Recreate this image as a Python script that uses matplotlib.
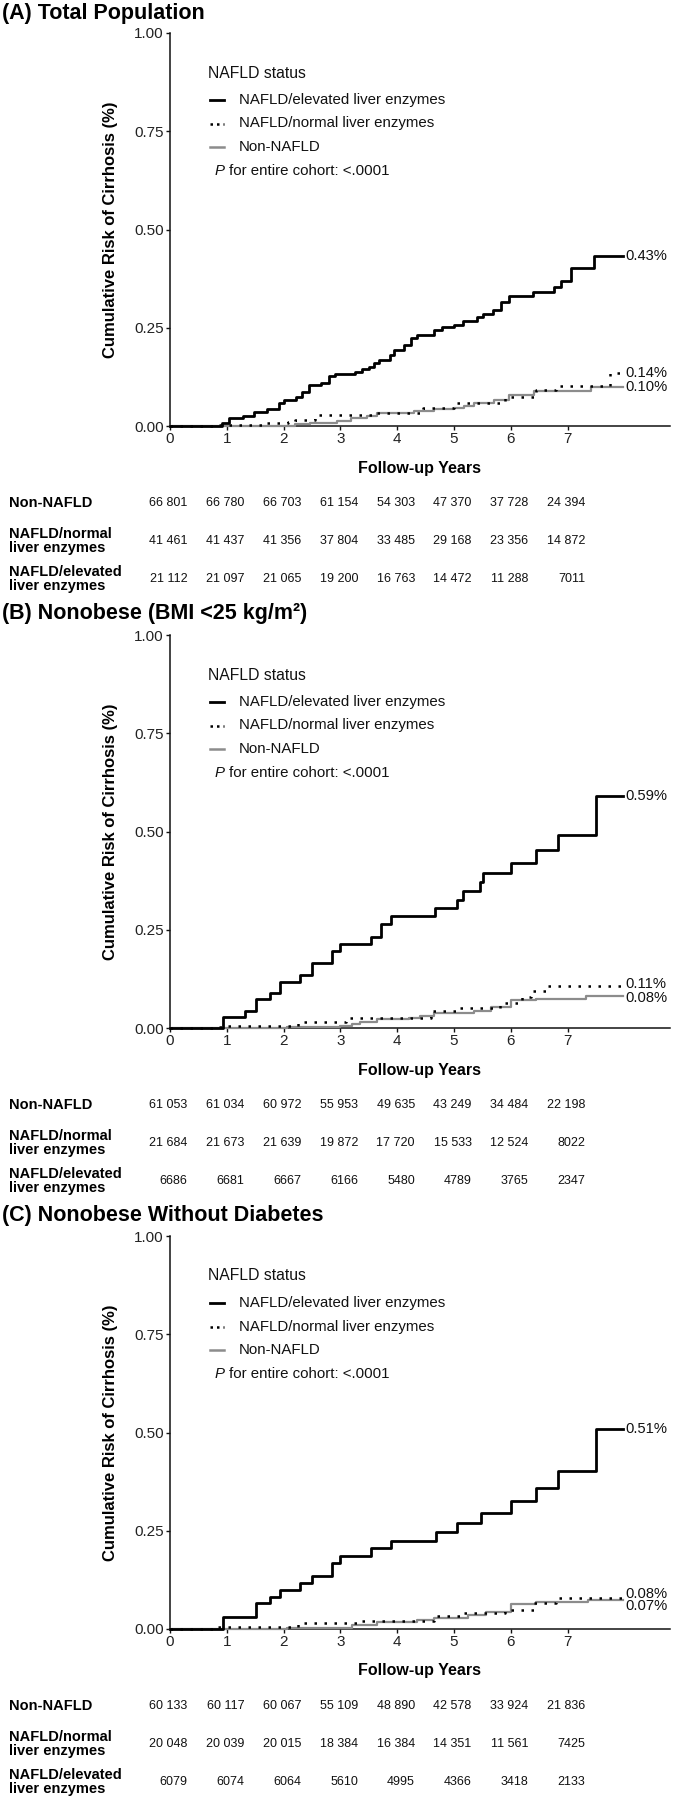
import matplotlib
matplotlib.use('Agg')
import matplotlib.pyplot as plt
from matplotlib.lines import Line2D
import matplotlib.transforms as mtransforms

plt.rcParams['font.family'] = ['Liberation Sans', 'DejaVu Sans']

# ---------------- data ----------------
years = [0, 1, 2, 3, 4, 5, 6, 7]
groups = ['Non-NAFLD', 'NAFLD/normal\nliver enzymes', 'NAFLD/elevated\nliver enzymes']
legend_labels = ['NAFLD/elevated liver enzymes', 'NAFLD/normal liver enzymes', 'Non-NAFLD']
end_time = 7.97

# Panel A: Total population
a_elev_t = [0, 0.91, 1.03, 1.29, 1.47, 1.71, 1.91, 2.0, 2.21, 2.32, 2.44, 2.65, 2.79, 2.91,
            3.26, 3.38, 3.5, 3.59, 3.68, 3.88, 3.94, 4.12, 4.24, 4.35, 4.65, 4.79, 5.0, 5.15,
            5.41, 5.5, 5.68, 5.82, 5.97, 6.38, 6.76, 6.88, 7.06, 7.47]
a_elev_v = [0, 0.007, 0.0195, 0.025, 0.036, 0.042, 0.058, 0.066, 0.075, 0.087, 0.104, 0.110,
            0.128, 0.132, 0.138, 0.144, 0.151, 0.161, 0.169, 0.18, 0.193, 0.206, 0.223, 0.231,
            0.244, 0.251, 0.257, 0.267, 0.278, 0.286, 0.295, 0.316, 0.330, 0.342, 0.354, 0.369,
            0.401, 0.432]
a_norm_t = [0, 0.76, 1.7, 2.08, 2.2, 2.55, 3.6, 4.45, 5.0, 5.9, 6.45, 6.8, 7.75]
a_norm_v = [0, 0.002, 0.008, 0.011, 0.015, 0.028, 0.034, 0.047, 0.059, 0.075, 0.092, 0.103, 0.136]
a_non_t = [0, 1.0, 2.2, 2.47, 2.94, 3.18, 3.47, 3.65, 4.29, 4.65, 5.0, 5.18, 5.35, 5.7, 5.97,
           6.41, 6.94, 7.41]
a_non_v = [0, 0.001, 0.004, 0.007, 0.013, 0.02, 0.026, 0.032, 0.037, 0.043, 0.046, 0.05, 0.058,
           0.066, 0.079, 0.088, 0.09, 0.1]
a_end_labels = ['0.43%', '0.14%', '0.10%']
a_n_non = ['66 801', '66 780', '66 703', '61 154', '54 303', '47 370', '37 728', '24 394']
a_n_norm = ['41 461', '41 437', '41 356', '37 804', '33 485', '29 168', '23 356', '14 872']
a_n_elev = ['21 112', '21 097', '21 065', '19 200', '16 763', '14 472', '11 288', '7011']

# Panel B: Nonobese
b_elev_t = [0, 0.94, 1.32, 1.52, 1.76, 1.93, 2.29, 2.5, 2.85, 3.0, 3.53, 3.72, 3.89, 4.66,
            5.05, 5.16, 5.46, 5.5, 6.0, 6.44, 6.82, 7.5]
b_elev_v = [0, 0.029, 0.043, 0.074, 0.088, 0.118, 0.135, 0.165, 0.197, 0.213, 0.231, 0.265,
            0.284, 0.305, 0.325, 0.348, 0.371, 0.395, 0.42, 0.452, 0.491, 0.59]
b_norm_t = [0, 0.76, 1.0, 2.26, 3.1, 4.6, 5.05, 5.8, 6.2, 6.36, 6.62]
b_norm_v = [0, 0.002, 0.004, 0.014, 0.025, 0.044, 0.052, 0.063, 0.08, 0.093, 0.107]
b_non_t = [0, 2.06, 3.0, 3.2, 3.35, 3.65, 4.2, 4.4, 4.65, 5.35, 5.65, 6.0, 6.44, 7.32]
b_non_v = [0, 0.002, 0.005, 0.01, 0.016, 0.022, 0.025, 0.031, 0.037, 0.042, 0.053, 0.071,
           0.074, 0.082]
b_end_labels = ['0.59%', '0.11%', '0.08%']
b_n_non = ['61 053', '61 034', '60 972', '55 953', '49 635', '43 249', '34 484', '22 198']
b_n_norm = ['21 684', '21 673', '21 639', '19 872', '17 720', '15 533', '12 524', '8022']
b_n_elev = ['6686', '6681', '6667', '6166', '5480', '4789', '3765', '2347']

# Panel C: Nonobese without diabetes
c_elev_t = [0, 0.94, 1.52, 1.76, 1.93, 2.29, 2.5, 2.85, 3.0, 3.53, 3.89, 4.68, 5.05, 5.47,
            6.0, 6.44, 6.82, 7.5]
c_elev_v = [0, 0.031, 0.065, 0.082, 0.098, 0.116, 0.134, 0.168, 0.186, 0.207, 0.224, 0.247,
            0.269, 0.294, 0.325, 0.359, 0.401, 0.508]
c_norm_t = [0, 0.76, 2.26, 3.35, 4.65, 5.18, 5.9, 6.4, 6.8]
c_norm_v = [0, 0.004, 0.014, 0.021, 0.033, 0.04, 0.048, 0.065, 0.08]
c_non_t = [0, 2.06, 3.2, 3.65, 4.35, 4.65, 5.24, 5.56, 6.0, 6.44, 7.35]
c_non_v = [0, 0.003, 0.01, 0.017, 0.023, 0.029, 0.036, 0.044, 0.063, 0.068, 0.074]
c_end_labels = ['0.51%', '0.08%', '0.07%']
c_n_non = ['60 133', '60 117', '60 067', '55 109', '48 890', '42 578', '33 924', '21 836']
c_n_norm = ['20 048', '20 039', '20 015', '18 384', '16 384', '14 351', '11 561', '7425']
c_n_elev = ['6079', '6074', '6064', '5610', '4995', '4366', '3418', '2133']

# ---------------- layout ----------------
W, H = 674, 1800
fig = plt.figure(figsize=(W / 100, H / 100), dpi=100)


def fx(px):
    return px / W


def fy(py):
    return 1 - py / H


BLACK = '#000000'
GRAY = '#8c8c8c'
TXT = '#111111'
AX_L, AX_R = 170, 670
XMAX = 8.8

panels = [
    dict(title='(A) Total Population', title_y=13, top=33, bottom=426,
         elev=(a_elev_t, a_elev_v), norm=(a_norm_t, a_norm_v), non=(a_non_t, a_non_v),
         labels=a_end_labels, lab_off=(0, 0, 0),
         counts=(a_n_non, a_n_norm, a_n_elev)),
    dict(title='(B) Nonobese (BMI <25 kg/m\u00b2)', title_y=613, top=635, bottom=1028,
         elev=(b_elev_t, b_elev_v), norm=(b_norm_t, b_norm_v), non=(b_non_t, b_non_v),
         labels=b_end_labels, lab_off=(0, 2, -2),
         counts=(b_n_non, b_n_norm, b_n_elev)),
    dict(title='(C) Nonobese Without Diabetes', title_y=1215, top=1236, bottom=1629,
         elev=(c_elev_t, c_elev_v), norm=(c_norm_t, c_norm_v), non=(c_non_t, c_non_v),
         labels=c_end_labels, lab_off=(0, 3.5, -6.5),
         counts=(c_n_non, c_n_norm, c_n_elev)),
]

dot_style = (0, (1, 3))

for p in panels:
    top, bot = p['top'], p['bottom']
    ax = fig.add_axes([fx(AX_L), fy(bot), fx(AX_R - AX_L), (bot - top) / H])
    ax.set_xlim(0, XMAX)
    ax.set_ylim(0, 1.0)
    for s in ['top', 'right']:
        ax.spines[s].set_visible(False)
    for s in ['left', 'bottom']:
        ax.spines[s].set_linewidth(1.1)
        ax.spines[s].set_color('#111111')
    ax.set_xticks(years)
    ax.set_xticklabels([str(y) for y in years])
    ax.set_yticks([0, 0.25, 0.5, 0.75, 1.0])
    ax.set_yticklabels(['0.00', '0.25', '0.50', '0.75', '1.00'])
    ax.tick_params(direction='out', length=3, width=1, labelsize=11, colors='#111111',
                   labelcolor='#222222', pad=1.5)

    # curves
    series = [(p['non'], GRAY, '-', 1.6), (p['norm'], BLACK, dot_style, 1.8),
              (p['elev'], BLACK, '-', 2.0)]
    for (t, v), col, ls, lw in series:
        ax.step(list(t) + [end_time], list(v) + [v[-1]], where='post', color=col,
                linestyle=ls, linewidth=lw, clip_on=False, zorder=3)

    # end labels
    finals = [p['elev'][1][-1], p['norm'][1][-1], p['non'][1][-1]]
    for lab, fv, off in zip(p['labels'], finals, p['lab_off']):
        ax.annotate(lab, xy=(end_time, fv), xytext=(1.5, off * 0.72),
                    textcoords='offset points', ha='left', va='center',
                    fontsize=10.6, color=TXT)

    # titles and axis labels
    fig.text(fx(2), fy(p['title_y']), p['title'], fontsize=15.5, fontweight='bold',
             ha='left', va='center', color='#000000')
    fig.text(fx(111), fy((top + bot) / 2), 'Cumulative Risk of Cirrhosis (%)',
             rotation=90, fontsize=12, fontweight='bold', ha='center', va='center',
             color='#000000')
    fig.text(fx((AX_L + AX_R) / 2), fy(bot + 42), 'Follow-up Years', fontsize=11.5,
             fontweight='bold', ha='center', va='center', color='#000000')

    # legend
    fig.text(fx(208), fy(top + 40), 'NAFLD status', fontsize=11.3, ha='left',
             va='center', color=TXT)
    leg_styles = [(BLACK, '-', 2.0), (BLACK, (0, (1, 1.6)), 1.8), (GRAY, '-', 1.8)]
    for i, (lab, (col, ls, lw)) in enumerate(zip(legend_labels, leg_styles)):
        yy = fy(top + 67 + 23.5 * i)
        fig.add_artist(Line2D([fx(210), fx(224)], [yy, yy], transform=fig.transFigure,
                              color=col, linestyle=ls, linewidth=lw))
        fig.text(fx(239), yy, lab, fontsize=10.8, ha='left', va='center', color=TXT)
    fig.text(fx(215), fy(top + 138), 'P', fontsize=10.8, fontstyle='italic',
             ha='left', va='center', color=TXT)
    fig.text(fx(229), fy(top + 138), 'for entire cohort: <.0001', fontsize=10.8,
             ha='left', va='center', color=TXT)

    # number-at-risk table
    trans = mtransforms.blended_transform_factory(ax.transData, fig.transFigure)
    for r, (g, counts) in enumerate(zip(groups, p['counts'])):
        yy = fy(bot + 77 + 38 * r)
        fig.text(fx(9), yy, g, fontsize=10.5, fontweight='bold', ha='left',
                 va='center', linespacing=1.0, color='#000000')
        for yr, c in zip(years, counts):
            ax.text(yr + 0.31, yy, c, transform=trans, ha='right', va='center',
                    fontsize=9, color=TXT)

fig.savefig('out.png', dpi=100)
